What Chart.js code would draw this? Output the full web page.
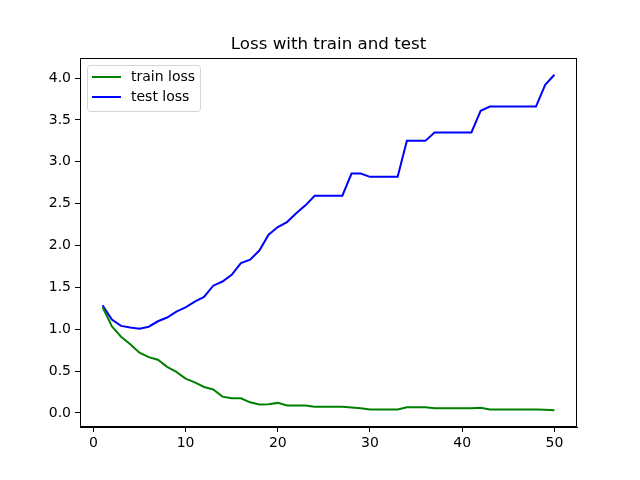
<!DOCTYPE html>
<html>
<head>
<meta charset="utf-8">
<script src="https://cdn.jsdelivr.net/npm/chart.js@4/dist/chart.umd.min.js"></script>
<style>
  body { margin: 0; background: #fff; }
</style>
</head>
<body>
<canvas id="lossChart" width="640" height="480"></canvas>
<script>
var epochs = [];
for (var i = 1; i <= 50; i++) epochs.push(i);

var trainLoss = [1.265, 1.035, 0.91, 0.82, 0.72, 0.667, 0.635, 0.55, 0.49, 0.41,
                 0.365, 0.31, 0.28, 0.195, 0.175, 0.175, 0.127, 0.10, 0.105, 0.12,
                 0.09, 0.09, 0.09, 0.075, 0.075, 0.075, 0.075, 0.065, 0.055, 0.04,
                 0.04, 0.04, 0.04, 0.068, 0.068, 0.068, 0.055, 0.055, 0.055, 0.055,
                 0.055, 0.063, 0.04, 0.04, 0.04, 0.04, 0.04, 0.04, 0.038, 0.032];

var testLoss = [1.286, 1.115, 1.04, 1.02, 1.005, 1.03, 1.095, 1.14, 1.21, 1.26,
                1.33, 1.385, 1.52, 1.57, 1.65, 1.79, 1.83, 1.94, 2.13, 2.22,
                2.28, 2.385, 2.48, 2.595, 2.595, 2.595, 2.595, 2.86, 2.86, 2.82,
                2.82, 2.82, 2.82, 3.25, 3.25, 3.25, 3.35, 3.35, 3.35, 3.35,
                3.35, 3.61, 3.66, 3.66, 3.66, 3.66, 3.66, 3.66, 3.92, 4.04];

var xTicks = [0, 10, 20, 30, 40, 50];
var yTicks = [0.0, 0.5, 1.0, 1.5, 2.0, 2.5, 3.0, 3.5, 4.0];
var chartTitle = 'Loss with train and test';

function toPoints(values) {
    return values.map(function(v, i) { return { x: epochs[i], y: v }; });
}

var tickFont = { family: 'DejaVu Sans', size: 14 };

// matplotlib-style title, legend inside the axes, and the full frame
var frameAndLegend = {
    id: 'frameAndLegend',
    afterDraw: function(chart) {
        var ctx = chart.ctx;
        var a = chart.chartArea;
        ctx.save();
        ctx.strokeStyle = '#000';
        ctx.lineWidth = 1;
        ctx.strokeRect(a.left + 0.5, a.top + 0.5, a.right - a.left - 1, a.bottom - a.top - 1);

        ctx.fillStyle = '#000';
        ctx.font = '16.7px DejaVu Sans';
        ctx.textAlign = 'center';
        ctx.textBaseline = 'alphabetic';
        ctx.fillText(chartTitle, (a.left + a.right) / 2, 49);

        var bx = a.left + 7.5, by = a.top + 7.5, bw = 113, bh = 46;
        ctx.beginPath();
        ctx.roundRect(bx, by, bw, bh, 3);
        ctx.fillStyle = 'rgba(255,255,255,0.8)';
        ctx.fill();
        ctx.strokeStyle = '#d5d5d5';
        ctx.stroke();

        ctx.font = '14px DejaVu Sans';
        ctx.textAlign = 'left';
        ctx.textBaseline = 'middle';
        chart.data.datasets.forEach(function(ds, k) {
            var y = a.top + 19 + k * 20;
            ctx.beginPath();
            ctx.strokeStyle = ds.borderColor;
            ctx.lineWidth = 2;
            ctx.moveTo(a.left + 12, y);
            ctx.lineTo(a.left + 41, y);
            ctx.stroke();
            ctx.fillStyle = '#000';
            ctx.fillText(ds.label, a.left + 51, y);
        });
        ctx.restore();
    }
};

var g = document.getElementById('lossChart').getContext('2d');

var lossChart = new Chart(g, {
    type: 'line',
    data: {
        datasets: [{
            label: 'train loss',
            data: toPoints(trainLoss),
            borderColor: 'green',
            borderWidth: 2,
            pointRadius: 0,
            fill: false
        }, {
            label: 'test loss',
            data: toPoints(testLoss),
            borderColor: 'blue',
            borderWidth: 2,
            pointRadius: 0,
            fill: false
        }]
    },
    options: {
        responsive: false,
        animation: false,
        devicePixelRatio: 1,
        layout: { padding: { top: 58, right: 63, left: 0, bottom: 0 } },
        plugins: {
            legend: { display: false },
            tooltip: { enabled: false },
            title: { display: false }
        },
        scales: {
            x: {
                type: 'linear',
                min: -1.45,
                max: 52.45,
                afterBuildTicks: function(scale) {
                    scale.ticks = xTicks.map(function(v) { return { value: v }; });
                },
                afterFit: function(scale) { scale.height = 53; },
                grid: { drawOnChartArea: false, color: '#000', tickLength: 5 },
                border: { display: true, color: '#000' },
                ticks: { color: '#000', font: tickFont, padding: 3, maxRotation: 0 }
            },
            y: {
                min: -0.168,
                max: 4.24,
                afterBuildTicks: function(scale) {
                    scale.ticks = yTicks.map(function(v) { return { value: v }; });
                },
                afterFit: function(scale) { scale.width = 80; },
                grid: { drawOnChartArea: false, color: '#000', tickLength: 5 },
                border: { display: true, color: '#000' },
                ticks: {
                    color: '#000', font: tickFont, padding: 4,
                    callback: function(v) { return v.toFixed(1); }
                }
            }
        }
    },
    plugins: [frameAndLegend]
});
</script>
</body>
</html>
